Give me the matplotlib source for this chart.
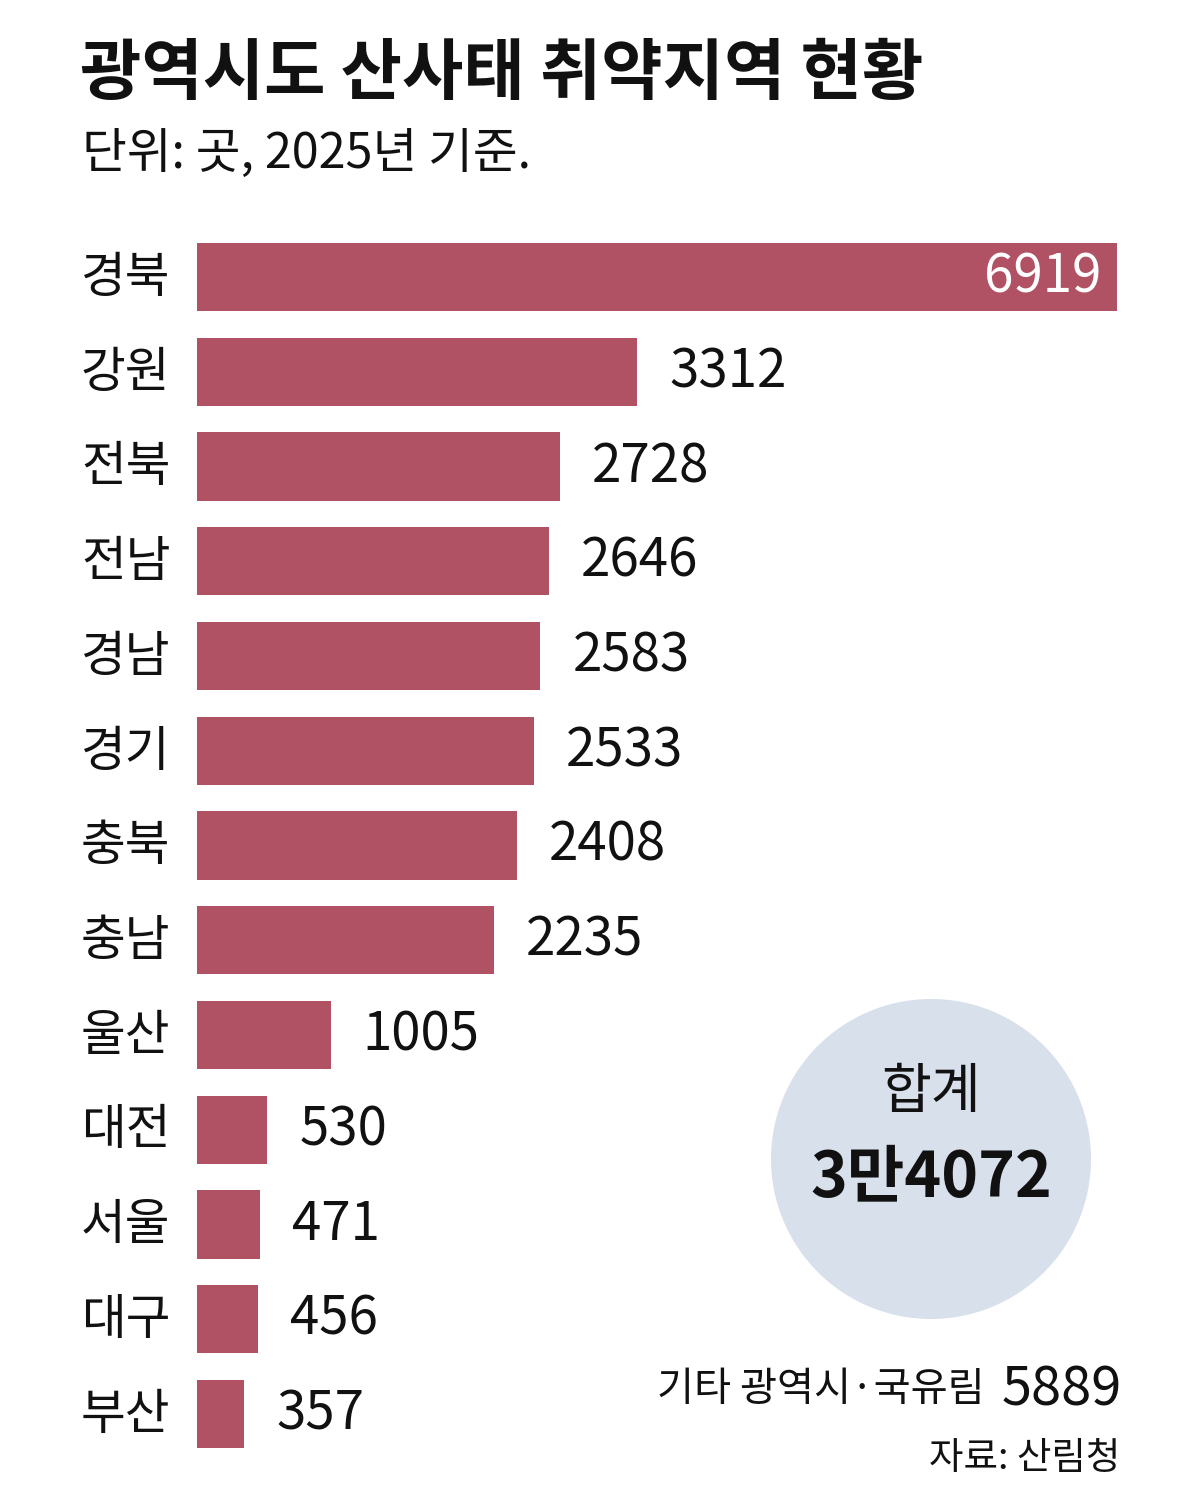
import matplotlib
matplotlib.use("Agg")
import matplotlib.pyplot as plt
from matplotlib import font_manager
from matplotlib.patches import Circle

regions = ["경북", "강원", "전북", "전남", "경남", "경기", "충북", "충남", "울산", "대전", "서울", "대구", "부산"]
values = [6919, 3312, 2728, 2646, 2583, 2533, 2408, 2235, 1005, 530, 471, 456, 357]
total_label = "3만4072"
other_label = "기타 광역시·국유림"
other_value = "5889"
title = "광역시도 산사태 취약지역 현황"
subtitle = "단위: 곳, 2025년 기준."
source = "자료: 산림청"

installed = {f.name for f in font_manager.fontManager.ttflist}
KR = "Noto Sans CJK KR"
NUM = ["Liberation Sans Narrow", KR] if "Liberation Sans Narrow" in installed else [KR]
plt.rcParams["font.family"] = [KR, "DejaVu Sans"]

W, H = 1200, 1512
fig = plt.figure(figsize=(W / 100, H / 100), dpi=100)
fig.patch.set_facecolor("white")

bar_color = "#B15264"
ax = fig.add_axes([197 / W, (H - 1448) / H, 920 / W, 1205 / H])
ypos = list(range(len(values)))
ax.barh(ypos, values, height=0.72, color=bar_color, edgecolor="none")
ax.set_xlim(0, max(values))
ax.set_ylim(len(values) - 1 + 0.36, -0.36)
ax.axis("off")

for i, (r, v) in enumerate(zip(regions, values)):
    ax.annotate(r, xy=(0, i), xycoords=("axes fraction", "data"), xytext=(-116, -1),
                textcoords="offset pixels", ha="left", va="center", fontsize=35, color="#111111")
    if i == 0:
        ax.annotate(f"{v}", xy=(v, i), xytext=(-16, 0), textcoords="offset pixels",
                    ha="right", va="center", fontsize=38, color="white", family=NUM)
    else:
        ax.annotate(f"{v}", xy=(v, i), xytext=(32, 0), textcoords="offset pixels",
                    ha="left", va="center", fontsize=38, color="#111111", family=NUM)

# overlay for annotations in pixel space
ov = fig.add_axes([0, 0, 1, 1], zorder=-1)
ov.set_xlim(0, W)
ov.set_ylim(H, 0)
ov.axis("off")
ov.patch.set_alpha(0)

ov.text(80, 75, title, fontsize=48, fontweight="bold", ha="left", va="center", color="#111111")
ov.text(82, 154, subtitle, fontsize=35, ha="left", va="center", color="#111111")

ov.add_patch(Circle((931, 1159), 160, facecolor="#D8E0EC", edgecolor="none"))
ov.text(931, 1092, "합계", fontsize=39, ha="center", va="center", color="#111111")
ov.text(931, 1178, total_label, fontsize=45, fontweight="bold", ha="center", va="center",
        color="#111111")

ov.text(985, 1390, other_label, fontsize=29, ha="right", va="center", color="#111111")
ov.text(1122, 1390, other_value, fontsize=39, ha="right", va="center", color="#111111", family=NUM)
ov.text(1120, 1458, source, fontsize=27, ha="right", va="center", color="#111111")

fig.savefig("out.png", dpi=100, facecolor="white")
